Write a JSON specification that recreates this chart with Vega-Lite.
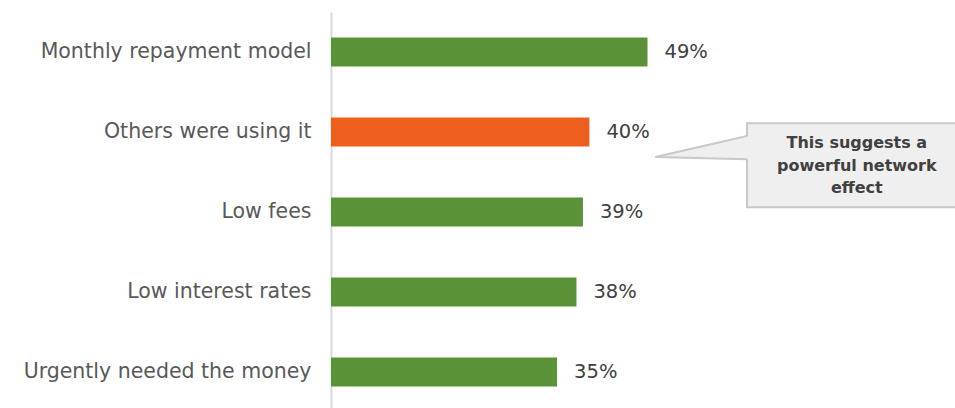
{
  "$schema": "https://vega.github.io/schema/vega-lite/v6.json",
  "width": 624,
  "height": 400,
  "autosize": {"type": "none"},
  "padding": {"left": 331, "top": 12, "right": 0, "bottom": 0},
  "background": "white",
  "config": {"view": {"stroke": null}, "font": "DejaVu Sans"},
  "datasets": {
    "bars": [
      {"reason": "Monthly repayment model", "pct": 0.49},
      {"reason": "Others were using it", "pct": 0.40},
      {"reason": "Low fees", "pct": 0.39},
      {"reason": "Low interest rates", "pct": 0.38},
      {"reason": "Urgently needed the money", "pct": 0.35}
    ],
    "box": [{"x1": 0.644, "x2": 0.975, "y1": 1.39, "y2": 2.44}],
    "pointerFill": [
      {"x": 0.502, "ytop": 1.8125, "ybot": 1.8125},
      {"x": 0.649, "ytop": 1.55, "ybot": 1.84}
    ],
    "pointerEdge": [
      {"o": 1, "x": 0.644, "y": 1.55},
      {"o": 2, "x": 0.502, "y": 1.8125},
      {"o": 3, "x": 0.644, "y": 1.84}
    ],
    "note": [
      {"x": 0.814, "y": 1.64, "t": "This suggests a"},
      {"x": 0.814, "y": 1.925, "t": "powerful network"},
      {"x": 0.814, "y": 2.2, "t": "effect"}
    ]
  },
  "layer": [
    {
      "data": {"name": "bars"},
      "encoding": {
        "y": {"field": "reason", "type": "nominal", "sort": null,
              "scale": {"paddingInner": 0.64, "paddingOuter": 0.32},
              "axis": {"title": null, "ticks": false, "domainColor": "#d9d9d9", "domainWidth": 2,
                       "labelFontSize": 20.5, "labelColor": "#595959", "labelPadding": 20, "labelFont": "DejaVu Sans", "labelLimit": 400}},
        "x": {"field": "pct", "type": "quantitative", "scale": {"domain": [0, 0.966], "nice": false}, "axis": null}
      },
      "layer": [
        {
          "mark": {"type": "bar"},
          "encoding": {
            "color": {
              "condition": {"test": "datum.reason === 'Others were using it'", "value": "#EE5F1E"},
              "value": "#5B9137"
            }
          }
        },
        {
          "mark": {"type": "text", "align": "left", "dx": 17, "fontSize": 19.5, "color": "#404040", "font": "DejaVu Sans"},
          "encoding": {
            "text": {"field": "pct", "type": "quantitative", "format": ".0%"}
          }
        }
      ]
    },
    {
      "layer": [
        {
          "data": {"name": "box"},
          "mark": {"type": "rect", "fill": "#efefef", "stroke": "#c8c8c8", "strokeWidth": 2},
          "encoding": {
            "x": {"field": "x1", "type": "quantitative"},
            "x2": {"field": "x2"},
            "y": {"field": "y1", "type": "quantitative", "scale": {"domain": [0, 5], "reverse": true, "nice": false}, "axis": null},
            "y2": {"field": "y2"}
          }
        },
        {
          "data": {"name": "pointerFill"},
          "mark": {"type": "area", "fill": "#efefef", "orient": "horizontal"},
          "encoding": {
            "x": {"field": "x", "type": "quantitative"},
            "y": {"field": "ytop", "type": "quantitative"},
            "y2": {"field": "ybot"}
          }
        },
        {
          "data": {"name": "pointerEdge"},
          "mark": {"type": "line", "color": "#c8c8c8", "strokeWidth": 2},
          "encoding": {
            "x": {"field": "x", "type": "quantitative"},
            "y": {"field": "y", "type": "quantitative"},
            "order": {"field": "o"}
          }
        },
        {
          "data": {"name": "note"},
          "mark": {"type": "text", "align": "center", "baseline": "middle", "fontSize": 16, "fontWeight": "bold", "color": "#404040", "font": "DejaVu Sans"},
          "encoding": {
            "x": {"field": "x", "type": "quantitative"},
            "y": {"field": "y", "type": "quantitative"},
            "text": {"field": "t"}
          }
        }
      ]
    }
  ],
  "resolve": {"scale": {"y": "independent"}}
}
